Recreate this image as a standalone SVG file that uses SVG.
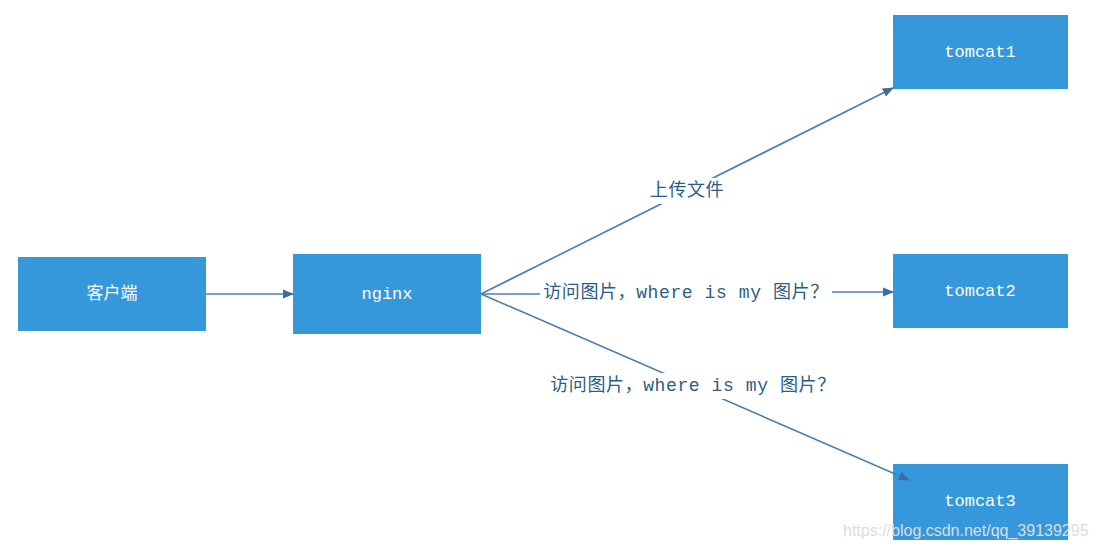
<svg xmlns="http://www.w3.org/2000/svg" width="1096" height="548" viewBox="0 0 1096 548">
<style>
.box{fill:#3498db}
.bt{fill:#fff;font-family:"Liberation Mono","Noto Sans CJK SC",monospace;font-size:17px;text-anchor:middle;dominant-baseline:central}
.ln{stroke:#4a80b0;stroke-width:1.6;fill:none}
.lb{fill:#2b5d87;font-family:"Liberation Mono","Noto Sans CJK SC",monospace;font-size:18px;letter-spacing:0.6px;text-anchor:middle;dominant-baseline:central}
</style>
<defs><marker id="a" viewBox="0 0 10 10" refX="9" refY="5" markerWidth="7" markerHeight="7" orient="auto"><path d="M0,1 L10,5 L0,9 z" fill="#3a6e9e"/></marker></defs>
<rect width="1096" height="548" fill="#fff"/>
<g id="client"><rect class="box" x="18" y="257" width="188" height="74"/><text class="bt" x="112" y="294">客户端</text></g>
<g id="nginx"><rect class="box" x="293" y="254" width="188" height="80"/><text class="bt" x="387" y="294">nginx</text></g>
<g id="tomcat1"><rect class="box" x="893" y="15" width="175" height="74"/><text class="bt" x="980" y="52">tomcat1</text></g>
<g id="tomcat2"><rect class="box" x="893" y="254" width="175" height="74"/><text class="bt" x="980" y="291">tomcat2</text></g>
<g id="tomcat3"><rect class="box" x="893" y="464" width="175" height="76"/><text class="bt" x="980" y="501">tomcat3</text></g>
<g id="connectors">
<line class="ln" x1="206" y1="294" x2="293" y2="294" marker-end="url(#a)"/>
<line class="ln" x1="481" y1="294" x2="893" y2="88" marker-end="url(#a)"/>
<line class="ln" x1="481" y1="294" x2="540" y2="294"/>
<line class="ln" x1="832" y1="292" x2="893" y2="292" marker-end="url(#a)"/>
<line class="ln" x1="481" y1="294" x2="909" y2="480" marker-end="url(#a)"/>
<rect x="640" y="178" width="94" height="26" fill="#fff"/>
<text class="lb" x="687" y="191">上传文件</text>
<text class="lb" x="686" y="293">访问图片，where is my 图片？</text>
<rect x="548" y="373" width="292" height="26" fill="#fff"/>
<text class="lb" x="693" y="386">访问图片，where is my 图片？</text>
</g>
<text x="843" y="536" fill="#ddd" font-family="Liberation Sans,sans-serif" font-size="16">https://blog.csdn.net/qq_39139295</text>
</svg>
